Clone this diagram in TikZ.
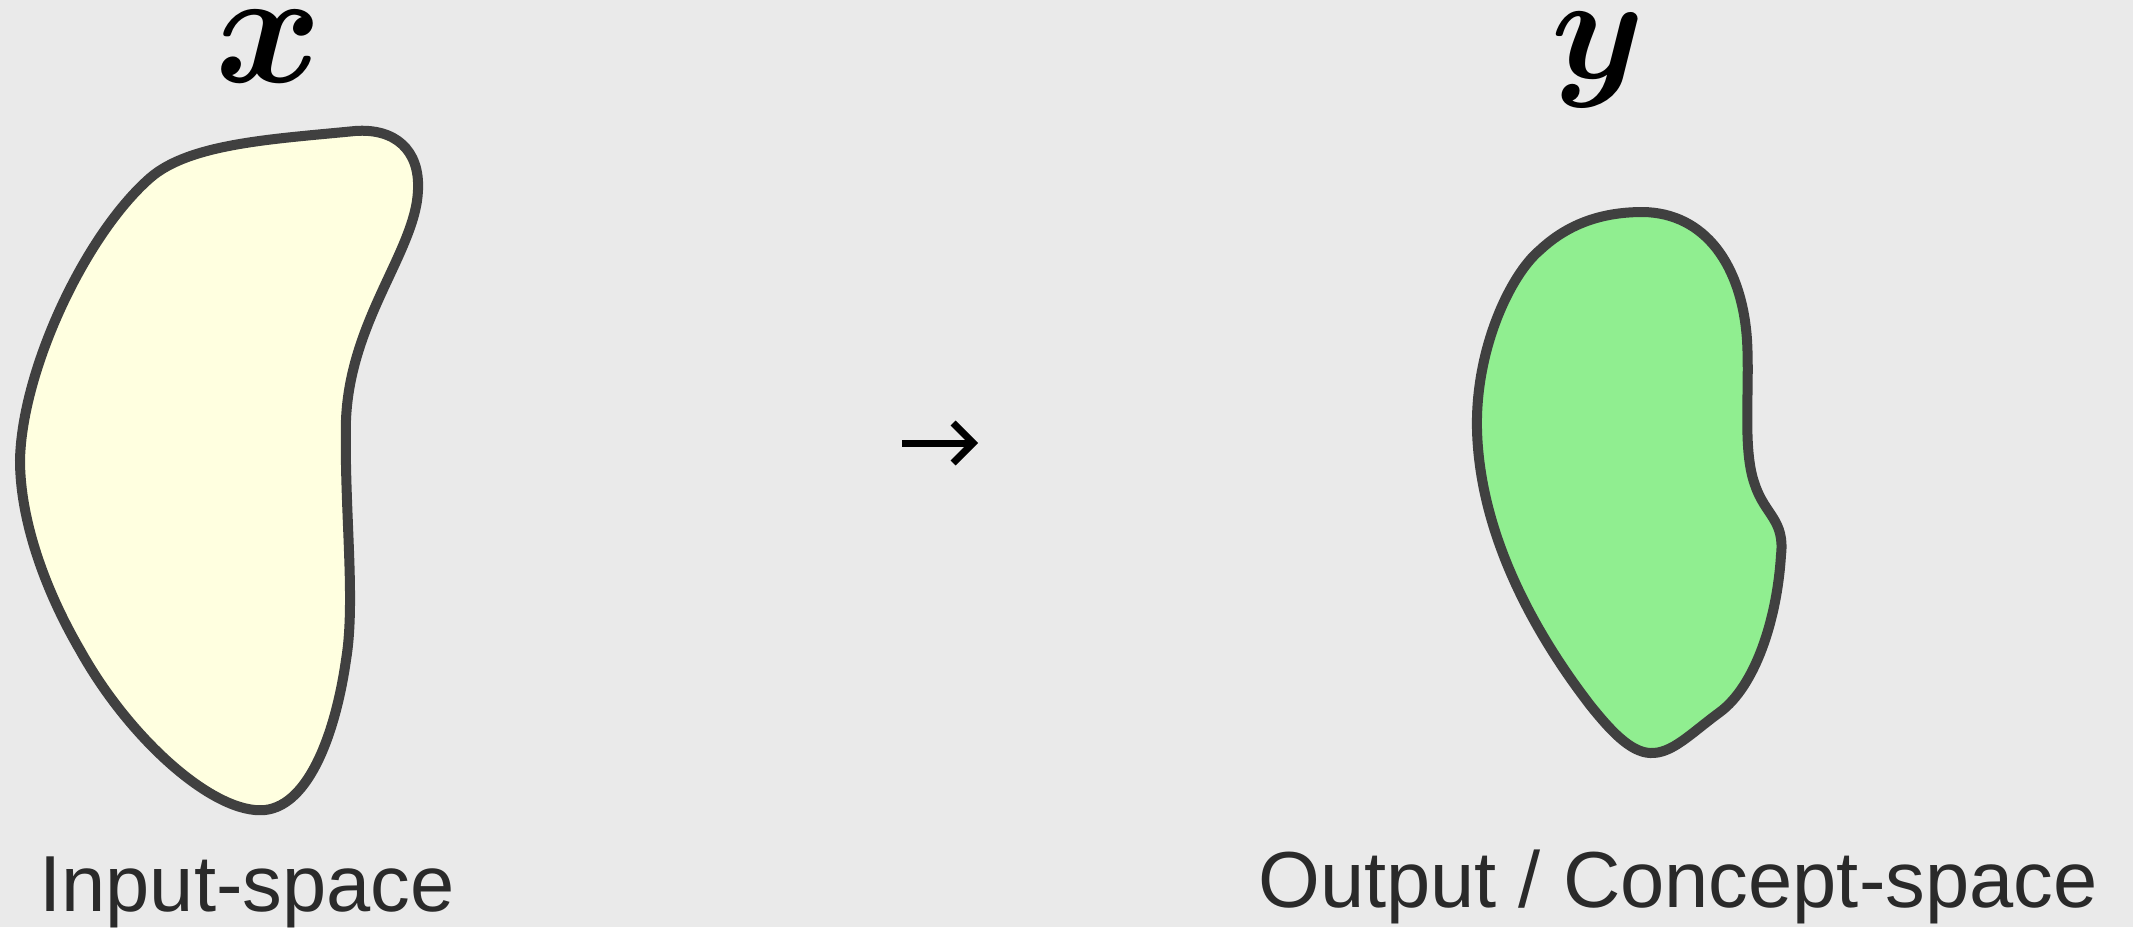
\documentclass[tikz,border=0pt]{standalone}
\usepackage{bm}
\usepackage{fontspec}
\setmainfont{Liberation Sans}
\usetikzlibrary{arrows.meta}
\definecolor{bg}{HTML}{EAEAEA}
\definecolor{outline}{HTML}{404040}
\definecolor{inputfill}{HTML}{FFFFE0}
\definecolor{outputfill}{HTML}{90EE90}
\definecolor{labeltext}{HTML}{2A2A2A}
\newcommand{\setsymbol}[2]{\scalebox{#1}{$\bm{#2}$}}
\begin{document}
\begin{tikzpicture}[x=0.01cm,y=-0.01cm,
  region/.style={draw=outline, line width=0.1cm, line join=round},
  spacelabel/.style={anchor=base, inner sep=0pt, text=labeltext,
    font=\fontsize{22.6pt}{26pt}\selectfont},
  setname/.style={anchor=base, inner sep=0pt,
    font=\fontsize{24.88pt}{30pt}\selectfont},
  maparrow/.style={line width=0.07cm, -{Straight Barb[length=0.2cm, width=0.4cm]}}]
\fill[bg] (0,0) rectangle (2133,927);
\useasboundingbox (0,0) rectangle (2133,927);

% input region
\draw[region, fill=inputfill]
  (20,460) .. controls (22,370) and (85,235) .. (150,178)
  .. controls (190,143) and (275,139) .. (355,131)
  .. controls (395,128) and (420,150) .. (418,190)
  .. controls (416,250) and (350,320) .. (346,420)
  .. controls (344,510) and (356,600) .. (346,660)
  .. controls (336,730) and (310,805) .. (265,810)
  .. controls (215,815) and (130,740) .. (80,650)
  .. controls (45,590) and (20,520) .. cycle;

% output region
\draw[region, fill=outputfill]
  (1643,212) .. controls (1705,213) and (1742,265) .. (1747,340)
  .. controls (1750,390) and (1742,450) .. (1755,485)
  .. controls (1765,515) and (1785,520) .. (1781,555)
  .. controls (1777,620) and (1755,686) .. (1720,712)
  .. controls (1690,734) and (1672,754) .. (1650,753)
  .. controls (1630,752) and (1610,730) .. (1590,705)
  .. controls (1540,640) and (1480,540) .. (1477,430)
  .. controls (1475,350) and (1510,275) .. (1540,250)
  .. controls (1570,222) and (1605,212) .. cycle;

% set symbols
\node[setname] (xsym) at (269,82) {\setsymbol{1.85}{x}};
\node[setname] (ysym) at (1598,78) {\setsymbol{1.7}{y}};

% mapping arrow
\coordinate (arrowtail) at (902,443);
\coordinate (arrowtip) at (978,443);
\draw[maparrow] (arrowtail) -- (arrowtip);

% captions
\node[spacelabel] (inlabel) at (247,911) {Input-space};
\node[spacelabel] (outlabel) at (1678,907) {Output / Concept-space};
\end{tikzpicture}
\end{document}
